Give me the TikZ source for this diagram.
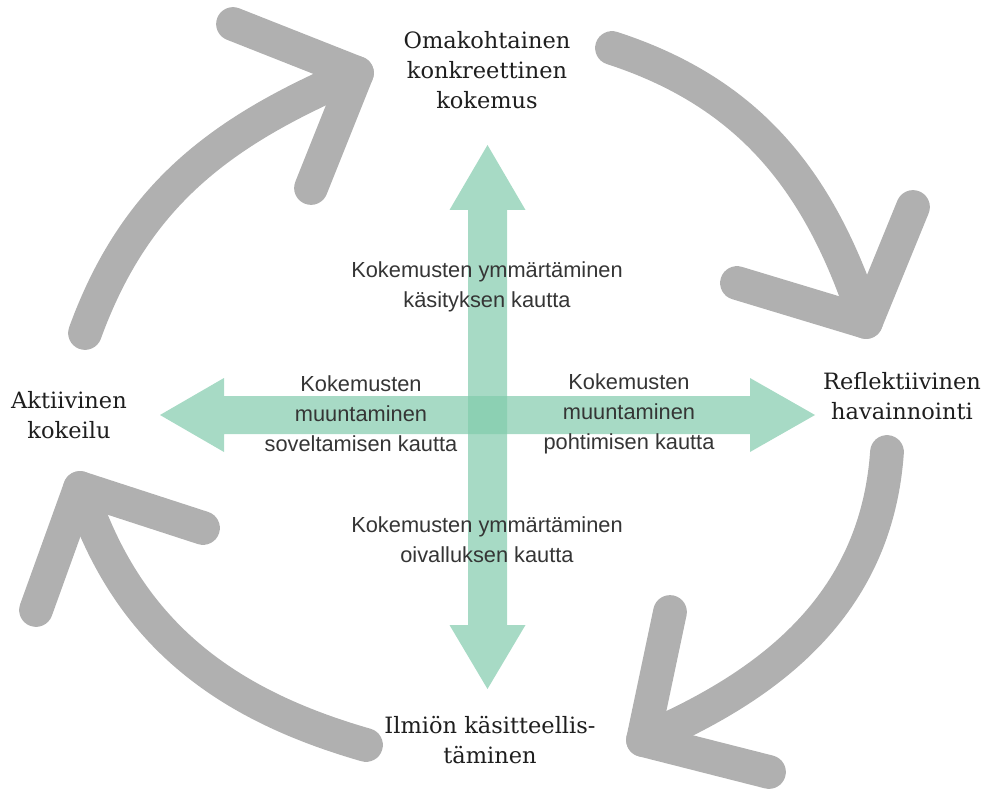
\documentclass[tikz,border=0pt]{standalone}
\usepackage{fontspec}
\setmainfont{DejaVu Serif}
\newfontfamily\labelsans{Liberation Sans}
\definecolor{arcgray}{RGB}{176,176,176}
\definecolor{mint}{RGB}{129,203,172}
\definecolor{ink}{RGB}{30,30,30}
\usetikzlibrary{positioning}
\tikzstyle{base}=[x=0.025cm, y=0.025cm, inner sep=0pt, outer sep=0pt]
\tikzstyle{cyclearrow}=[draw=arcgray, line width=24pt, line cap=round, line join=round]
\tikzstyle{blockarrow}=[fill=mint, fill opacity=0.7, draw=none]
\tikzstyle{phase}=[font=\fontsize{16}{21.3}\selectfont, text=ink, align=center]
\tikzstyle{mode}=[font=\labelsans\fontsize{15.5}{21.3}\selectfont, text=ink!90, align=center]

\begin{document}
\begin{tikzpicture}[base]
    \path [use as bounding box] (0,0) rectangle (981,-794);
        % green double arrows
        \path [blockarrow] (487.5,-145) -- (525.5,-210) -- (507,-210) -- (507,-625)
            -- (525.5,-625) -- (487.5,-689) -- (449.5,-625) -- (468,-625)
            -- (468,-210) -- (449.5,-210) -- cycle;
        \path [blockarrow] (160,-415) -- (224,-378) -- (224,-396) -- (750,-396)
            -- (750,-378) -- (815,-415) -- (750,-452) -- (750,-434)
            -- (224,-434) -- (224,-452) -- cycle;
        % phases of the cycle
        \node [phase] (kokemus) at (487,-70) {Omakohtainen\\konkreettinen\\kokemus};
        \node [phase] (havainto) at (902,-396) {Reflektiivinen\\havainnointi};
        \node [phase] (kasite) at (490,-740) {Ilmiön käsitteellis-\\täminen};
        \node [phase] (kokeilu) at (69,-415) {Aktiivinen\\kokeilu};
        % ways of learning
        \node [mode] (kasitys) at (487,-287) {Kokemusten ymmärtäminen\\käsityksen kautta};
        \node [mode] (oivallus) at (487,-540) {Kokemusten ymmärtäminen\\oivalluksen kautta};
        \node [mode] (soveltaa) at (361,-414) {Kokemusten\\muuntaminen\\soveltamisen kautta};
        \node [mode] (pohtia) at (629,-414) {Kokemusten\\muuntaminen\\pohtimisen kautta};
        % grey cycle arrows
        \coordinate (trTail) at (612,-48);
        \coordinate (trTip) at (866,-322);
        \coordinate (brTail) at (887,-452);
        \coordinate (brTip) at (643,-740);
        \coordinate (blTail) at (366,-745);
        \coordinate (blTip) at (80,-488);
        \coordinate (tlTail) at (85,-333);
        \coordinate (tlTip) at (357,-73);
        \draw [cyclearrow] (trTail) to [out=-18, in=108] (trTip);
        \draw [cyclearrow] (913,-207) -- (trTip) -- (737,-283);
        \draw [cyclearrow] (brTail) to [out=-94, in=23] (brTip);
        \draw [cyclearrow] (670,-612) -- (brTip) -- (769,-772);
        \draw [cyclearrow] (blTail) to [out=164, in=288] (blTip);
        \draw [cyclearrow] (203,-528) -- (blTip) -- (36,-610);
        \draw [cyclearrow] (tlTail) to [out=70, in=203] (tlTip);
        \draw [cyclearrow] (233,-24) -- (tlTip) -- (311,-188);
\end{tikzpicture}
\end{document}
